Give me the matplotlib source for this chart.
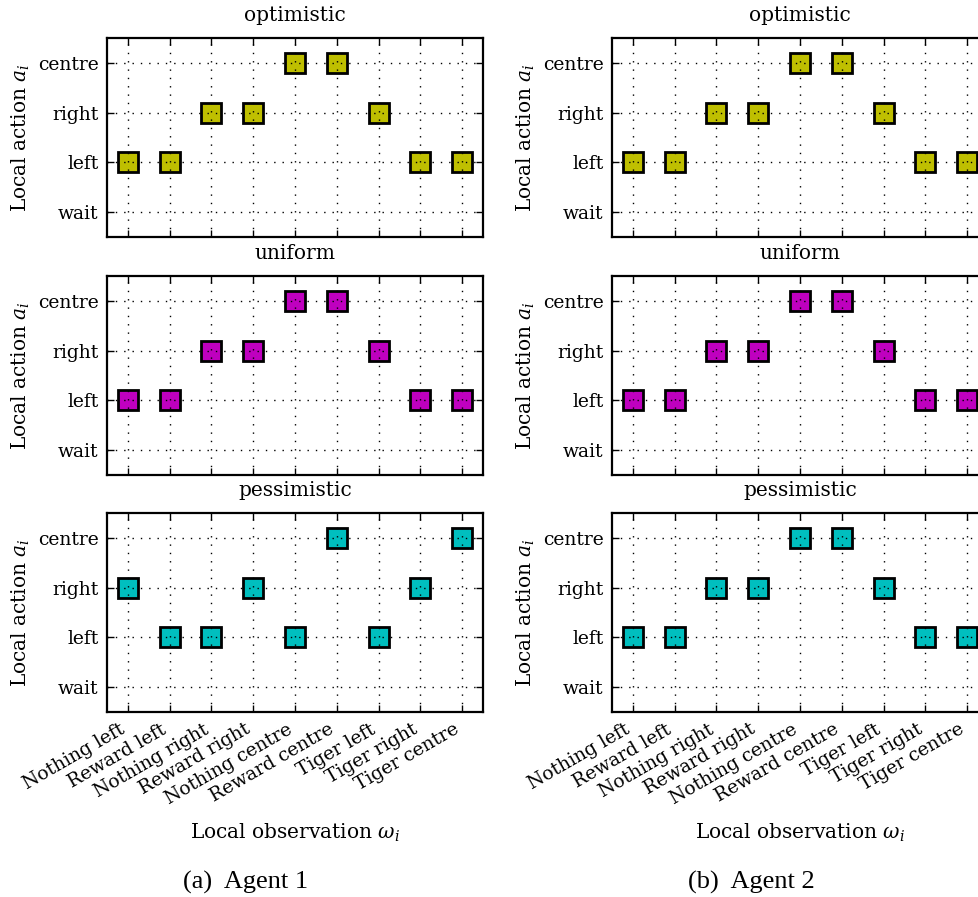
import matplotlib
matplotlib.use("Agg")
import matplotlib.pyplot as plt

observations = ["Nothing left", "Reward left", "Nothing right", "Reward right",
                "Nothing centre", "Reward centre", "Tiger left", "Tiger right", "Tiger centre"]
actions = ["wait", "left", "right", "centre"]
panel_titles = ["optimistic", "uniform", "pessimistic"]
panel_colors = ["#bfbf00", "#bf00bf", "#00bfbf"]

# action index per observation (0=wait, 1=left, 2=right, 3=centre)
agent1_optimistic = [1, 1, 2, 2, 3, 3, 2, 1, 1]
agent1_uniform = [1, 1, 2, 2, 3, 3, 2, 1, 1]
agent1_pessimistic = [2, 1, 1, 2, 1, 3, 1, 2, 3]
agent2_optimistic = [1, 1, 2, 2, 3, 3, 2, 1, 1]
agent2_uniform = [1, 1, 2, 2, 3, 3, 2, 1, 1]
agent2_pessimistic = [1, 1, 2, 2, 3, 3, 2, 1, 1]

agents = [
    [agent1_optimistic, agent1_uniform, agent1_pessimistic],
    [agent2_optimistic, agent2_uniform, agent2_pessimistic],
]
captions = ["(a)  Agent 1", "(b)  Agent 2"]

plt.rcParams["font.family"] = "DejaVu Serif"
plt.rcParams["mathtext.fontset"] = "dejavuserif"

W, H = 979, 897
fig = plt.figure(figsize=(W / 100, H / 100), dpi=100)

col_left = [107, 612]
ax_w = 376
row_top = [38, 276, 513]
ax_h = 199

fs_tick = 13.5
fs_title = 14.5
for c, agent in enumerate(agents):
    for r, vals in enumerate(agent):
        x0 = col_left[c]
        y0 = row_top[r]
        ax = fig.add_axes([x0 / W, 1 - (y0 + ax_h) / H, ax_w / W, ax_h / H])
        ax.plot(range(len(observations)), vals, linestyle="none", marker="s",
                markersize=13.8, markerfacecolor=panel_colors[r],
                markeredgecolor="black", markeredgewidth=2.0, zorder=2)
        ax.set_axisbelow(False)
        ax.grid(True, color="black", linestyle=(0, (1, 5)), linewidth=1.0)
        ax.set_xlim(-0.5, len(observations) - 0.5)
        ax.set_ylim(-0.5, len(actions) - 0.5)
        ax.set_yticks(range(len(actions)))
        ax.set_yticklabels(actions, fontsize=fs_tick)
        ax.set_xticks(range(len(observations)))
        if r == 2:
            ax.set_xticklabels(observations, fontsize=fs_tick, rotation=30, ha="right")
            ax.set_xlabel(r"Local observation $\omega_i$", fontsize=fs_title, labelpad=10)
        else:
            ax.set_xticklabels([])
        ax.tick_params(direction="in", length=5, width=1, top=True, right=True, pad=6)
        for s in ax.spines.values():
            s.set_linewidth(1.6)
        ax.set_title(panel_titles[r], fontsize=fs_title, pad=12)
        ax.set_ylabel(r"Local action $a_i$", fontsize=fs_title, labelpad=4)
    fig.text([246, 751][c] / W, 1 - 882 / H, captions[c], ha="center", va="center",
             fontsize=19, family="Liberation Serif")

fig.savefig("out.png", dpi=100)
